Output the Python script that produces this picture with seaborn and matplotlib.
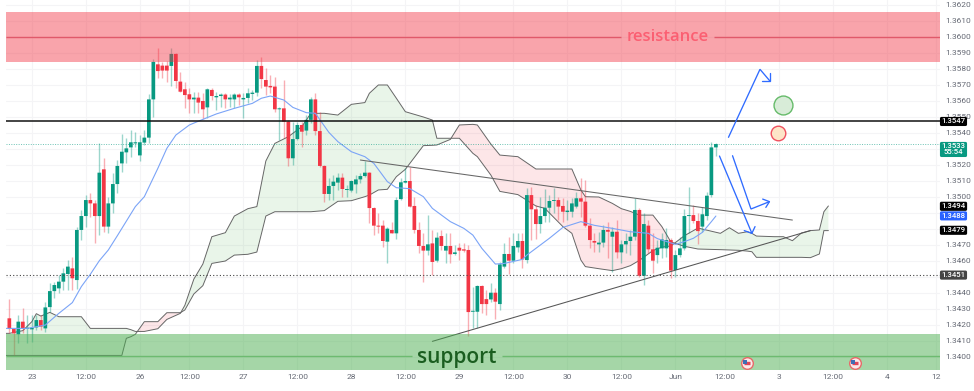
import numpy as np
import pandas as pd
import seaborn as sns
from matplotlib import pyplot as plt
from matplotlib import transforms

# %%
# hourly candles
opens = [1.3424,1.34173,1.3414,1.34219,1.34175,1.34171,1.34183,1.34229,1.34177,1.3431,
1.3441,1.34427,1.34469,1.34517,1.34552,1.34479,1.34792,1.34879,1.34979,1.34958,
1.34879,1.35171,1.34813,1.34958,1.35079,1.35208,1.35277,1.35308,1.35333,1.35258,
1.35338,1.35369,1.35608,1.35827,1.35819,1.35819,1.35817,1.35892,1.35719,1.35671,
1.3564,1.35608,1.35619,1.35598,1.35558,1.35667,1.35621,1.35629,1.35638,1.35608,
1.35608,1.35638,1.35608,1.35617,1.35642,1.3565,1.35817,1.35729,1.35692,1.35688,
1.35546,1.35552,1.35469,1.3524,1.3536,1.35448,1.35413,1.3548,1.35608,1.3541,
1.35192,1.35017,1.35067,1.35088,1.35119,1.35042,1.35038,1.35077,1.35108,1.35129,
1.3515,1.34929,1.34819,1.34819,1.34719,1.34792,1.34771,1.34985,1.35088,1.35098,
1.34942,1.34792,1.34692,1.34663,1.34708,1.346,1.34754,1.34663,1.34692,1.34642,
1.34681,1.34671,1.34667,1.34281,1.34281,1.34442,1.3436,1.34358,1.344,1.34329,
1.34563,1.34642,1.346,1.34683,1.34723,1.34604,1.3501,1.34921,1.34829,1.34879,
1.34931,1.34973,1.34979,1.34942,1.34904,1.34906,1.34938,1.3499,1.34969,1.34819,
1.34723,1.34702,1.34713,1.34792,1.3475,1.34781,1.34652,1.34702,1.34723,1.3475,
1.34917,1.34506,1.34819,1.34671,1.34635,1.34677,1.34677,1.34729,1.34542,1.34635,
1.34677,1.34879,1.34885,1.34848,1.34813,1.34879,1.3501,1.35308]
highs = [1.3436,1.34177,1.3426,1.34302,1.3426,1.3426,1.3426,1.3426,1.34344,1.34458,
1.34469,1.3451,1.34552,1.34604,1.34625,1.34813,1.34917,1.3501,1.35021,1.34979,
1.35333,1.3524,1.35,1.35146,1.35229,1.35392,1.35365,1.35417,1.35406,1.35385,
1.35417,1.35642,1.35858,1.35931,1.35844,1.35848,1.35931,1.35896,1.35781,1.35719,
1.35677,1.35656,1.35656,1.35646,1.35677,1.35677,1.35656,1.3565,1.3565,1.35642,
1.3565,1.35646,1.35646,1.35677,1.35667,1.35854,1.35871,1.35802,1.3576,1.35746,
1.35563,1.35729,1.35479,1.35469,1.35469,1.35469,1.3551,1.35625,1.35646,1.35531,
1.35198,1.35115,1.35135,1.3515,1.35146,1.35073,1.35104,1.35135,1.3515,1.35225,
1.35156,1.34938,1.34896,1.34854,1.34813,1.34844,1.35,1.35115,1.35177,1.35188,
1.35,1.34844,1.34771,1.34885,1.34792,1.34781,1.34792,1.34771,1.34771,1.34698,
1.34708,1.34708,1.34698,1.34438,1.34448,1.34448,1.34417,1.34458,1.34427,1.34594,
1.34708,1.3475,1.34771,1.34771,1.34771,1.35052,1.35063,1.34948,1.35,1.35046,
1.3501,1.35052,1.35,1.3499,1.34979,1.3499,1.35031,1.35115,1.35104,1.34865,
1.34771,1.34781,1.34823,1.34844,1.34813,1.34854,1.34729,1.34771,1.34792,1.3499,
1.34927,1.34896,1.34854,1.34771,1.34729,1.34771,1.34802,1.3474,1.34667,1.3475,
1.34921,1.35058,1.34948,1.34896,1.34938,1.35031,1.35344,1.35333]
lows = [1.34146,1.3401,1.34083,1.34146,1.34083,1.34094,1.34167,1.34167,1.34156,1.34281,
1.34365,1.34396,1.34417,1.34417,1.34417,1.34421,1.34729,1.34813,1.34875,1.34713,
1.3476,1.34781,1.34775,1.349,1.35021,1.35156,1.35208,1.3525,1.35313,1.35225,
1.35323,1.35333,1.355,1.3574,1.3574,1.35719,1.35692,1.35677,1.35656,1.35552,
1.35521,1.35521,1.35525,1.35483,1.3549,1.35604,1.35542,1.35563,1.35552,1.35563,
1.35552,1.35573,1.3549,1.35583,1.35604,1.35629,1.35677,1.35635,1.35646,1.35531,
1.35354,1.35365,1.35192,1.35198,1.35354,1.35313,1.35385,1.35458,1.35385,1.35188,
1.34969,1.34979,1.34979,1.35042,1.35,1.35,1.35031,1.35021,1.35088,1.35125,
1.34838,1.3476,1.34771,1.34683,1.34583,1.34771,1.34733,1.34979,1.35088,1.34938,
1.34771,1.34646,1.34469,1.34635,1.3451,1.34594,1.34667,1.34583,1.34583,1.34635,
1.34604,1.34656,1.34129,1.34177,1.34177,1.34271,1.3426,1.34344,1.34233,1.34292,
1.34552,1.34517,1.34583,1.34656,1.34552,1.34583,1.34729,1.34733,1.34771,1.34844,
1.34844,1.34896,1.34854,1.34844,1.34854,1.34875,1.34927,1.34875,1.34813,1.34677,
1.34656,1.34656,1.34688,1.34615,1.34531,1.34615,1.34583,1.34646,1.34635,1.34729,
1.345,1.34448,1.34646,1.34521,1.34583,1.34615,1.34625,1.3449,1.345,1.34625,
1.34667,1.34771,1.34833,1.34702,1.34781,1.34854,1.35,1.35254]
closes = [1.34173,1.34146,1.34219,1.34177,1.34181,1.34181,1.34229,1.34188,1.34308,1.3441,
1.34448,1.34469,1.34521,1.34563,1.3449,1.34792,1.34879,1.34979,1.34958,1.34879,
1.3515,1.34813,1.34958,1.35079,1.35192,1.35281,1.35302,1.3534,1.3534,1.3534,
1.35369,1.35608,1.35842,1.35785,1.35788,1.35788,1.35892,1.35723,1.35656,1.35635,
1.35608,1.35619,1.35588,1.35546,1.35671,1.35629,1.35629,1.35638,1.35608,1.35619,
1.35638,1.35621,1.35617,1.35646,1.3565,1.35817,1.35735,1.35688,1.35683,1.35546,
1.35552,1.35469,1.3524,1.3536,1.35448,1.35406,1.3548,1.35608,1.3541,1.35192,
1.35017,1.35067,1.35094,1.35119,1.35048,1.35048,1.35098,1.35108,1.35129,1.3515,
1.34929,1.34819,1.34813,1.34723,1.348,1.34771,1.34979,1.3509,1.35098,1.34938,
1.34792,1.34692,1.34663,1.34702,1.34592,1.34744,1.34692,1.34692,1.3464,1.34652,
1.34663,1.34663,1.34279,1.34283,1.34442,1.34329,1.34329,1.344,1.34344,1.34577,
1.34642,1.346,1.34692,1.34723,1.34608,1.3501,1.34921,1.34829,1.34879,1.34931,
1.34973,1.34979,1.34938,1.34906,1.34913,1.34958,1.3499,1.34969,1.34819,1.34729,
1.34713,1.34713,1.34792,1.34781,1.34781,1.34652,1.34702,1.34723,1.3475,1.34917,
1.34506,1.34829,1.34671,1.346,1.34681,1.34733,1.34729,1.34538,1.34635,1.34677,
1.34879,1.34885,1.34848,1.34785,1.3489,1.35006,1.35308,1.35329]

# ichimoku cloud
cloud_bars = [-1,0,3,5,6,7,9,11,16,18,25,26,27,28,30,33,35,38,39,41,43,45,48,50,53,55,57,59,62,65,67,70,73,76,79,80,
82,84,86,88,92,94,95,98,100,103,104,107,109,113,117,119,123,125,127,128,131,134,136,138,140,143,145,147,150,153,
158,160,162,164,165,166,170,172,174,176,178,180,181,182]
span_a = [1.34146,1.34146,1.34163,1.34219,1.34269,1.34254,1.34277,1.3425,1.3425,1.34177,1.34177,1.34177,1.34169,1.34158,
1.34158,1.34175,1.34233,1.34271,1.34321,1.34485,1.34579,1.3475,1.34775,1.34879,1.34925,1.34938,1.35223,1.35333,1.35375,
1.35438,1.35521,1.35521,1.3551,1.35577,1.35588,1.35646,1.35698,1.35698,1.35615,1.35531,1.35498,1.35479,1.35365,1.35365,
1.35365,1.35271,1.3525,1.35135,1.35033,1.35013,1.34942,1.34927,1.34813,1.34771,1.34604,1.34563,1.3455,1.34538,1.3455,
1.34569,1.34602,1.34663,1.34685,1.34692,1.34756,1.34804,1.34771,1.34806,1.34771,1.34781,1.34771,1.34754,1.3475,1.3475,
1.34725,1.34773,1.34788,1.34792,1.34906,1.34942]
span_b = [1.34008,1.34008,1.34008,1.34008,1.34008,1.34008,1.34008,1.34008,1.34008,1.34008,1.34008,1.34115,1.34125,1.3414,
1.34219,1.34219,1.34275,1.34275,1.34292,1.34392,1.34444,1.34583,1.34598,1.34635,1.3464,1.34654,1.34879,1.34906,1.34906,
1.34906,1.34906,1.34913,1.34971,1.34975,1.35,1.3501,1.35042,1.35046,1.35125,1.35171,1.35319,1.35321,1.35323,1.35358,
1.35448,1.35452,1.35448,1.35329,1.3526,1.3525,1.35173,1.35173,1.35173,1.35173,1.35042,1.35,1.34998,1.34958,1.34925,
1.34908,1.34885,1.34885,1.34813,1.34717,1.3469,1.34673,1.34669,1.34667,1.34665,1.3466,1.34656,1.34621,1.34621,1.34621,
1.34621,1.34621,1.34619,1.34642,1.34788,1.34788]

# blue moving average
ma_bars = [-1,4,8,11,14,16,18,20,22,24,28,30,33,35,37,40,43,46,50,54,56,58,61,63,66,68,71,73,76,79,81,84,86,89,92,94,98,
101,103,105,108,110,114,115,120,123,127,130,134,138,142,144,148,150,152,154,156,157]
ma_vals = [1.34177,1.34177,1.34198,1.34271,1.34338,1.34438,1.34515,1.346,1.34667,1.34756,1.34938,1.35,1.35177,1.35302,
1.35385,1.35448,1.35483,1.35517,1.35552,1.35583,1.35615,1.35629,1.35604,1.35558,1.35525,1.35521,1.35402,1.35344,1.35281,
1.3525,1.35208,1.35094,1.35056,1.3505,1.35,1.34927,1.34844,1.34802,1.3476,1.34677,1.34579,1.34583,1.34608,1.34635,1.3474,
1.34808,1.34844,1.34821,1.34802,1.34781,1.34771,1.34738,1.34702,1.34719,1.3474,1.34777,1.34844,1.34879]

# drawn trend lines
upper_trend_bars = [78, 174]
upper_trend_vals = [1.35229, 1.34854]
lower_trend_bars = [94, 178]
lower_trend_vals = [1.34096, 1.34788]

# blue arrows: path, then the two strokes of each head
arrow_paths = [
    ([159.8, 166.8, 169.0], [1.35371, 1.35796, 1.35723]),
    ([157.8, 165.0], [1.35254, 1.34771]),
    ([160.7, 164.8, 168.9], [1.35256, 1.34923, 1.34969]),
]
arrow_heads = [
    ([167.3, 169.0, 169.0], [1.35723, 1.35723, 1.35771]),
    ([163.3, 165.0, 165.7], [1.34788, 1.34771, 1.34813]),
    ([167.4, 168.9, 168.1], [1.34985, 1.34969, 1.34933]),
]

# zones and levels
resistance_top, resistance_bottom, resistance_mid = 1.36154, 1.3584, 1.36
support_top, support_mid = 1.34142, 1.34004
level_black, level_last, level_dotted = 1.3547, 1.3533, 1.3451
resistance_gap = (135.9, 156.6)
support_gap = (89.5, 109.5)

xtick_bars = [5, 17, 29, 40, 52, 64, 76, 88, 100, 112, 124, 136, 148, 159, 171, 183, 195, 206]
xtick_labels = ['23', '12:00', '26', '12:00', '27', '12:00', '28', '12:00', '29', '12:00', '30', '12:00',
                'Jun', '12:00', '3', '12:00', '4', '12']
# the scale labels hidden behind the price boxes stay blank
ytick_vals = [round(1.34 + 0.001 * k, 3) for k in range(23)]
hidden_ticks = [1.345, 1.348, 1.349, 1.353]

box_labels = ['1.3547', '1.3533\n55:54', '1.3494', '1.3488', '1.3479', '1.3451']
box_prices = [1.3547, 1.35295, 1.3494, 1.3488, 1.3479, 1.3451]
box_colors = ['#000000', '#089981', '#000000', '#2962ff', '#000000', '#444444']

event_bars = [163.9, 187.9]
event_price = 1.33958

# %%
sns.set_theme(style='whitegrid', rc={'grid.color': '#f4f4f6', 'grid.linewidth': 0.8})
plt.rcParams['font.family'] = ['Roboto', 'DejaVu Sans']

fig = plt.figure(figsize=(9.74, 3.91), dpi=100)
ax = fig.add_axes([6 / 974, 21 / 391, 934 / 974, 370 / 391])

candles = pd.DataFrame({'bar': range(len(opens)), 'open': opens, 'high': highs, 'low': lows, 'close': closes})
candles['up'] = candles['close'] >= candles['open']
green, red = '#089981', '#f23645'

# cloud first, candles on top
cloud = pd.DataFrame({'bar': cloud_bars, 'a': span_a, 'b': span_b})
ax.fill_between(cloud['bar'], cloud['a'], cloud['b'], where=cloud['a'] >= cloud['b'], interpolate=True,
                color='#4caf50', alpha=0.12, lw=0, zorder=1)
ax.fill_between(cloud['bar'], cloud['a'], cloud['b'], where=cloud['a'] <= cloud['b'], interpolate=True,
                color='#f23645', alpha=0.12, lw=0, zorder=1)
sns.lineplot(data=cloud, x='bar', y='a', color='#666666', lw=0.7, estimator=None, sort=False, ax=ax, zorder=2)
sns.lineplot(data=cloud, x='bar', y='b', color='#666666', lw=0.7, estimator=None, sort=False, ax=ax, zorder=2)

for up, color in [(True, green), (False, red)]:
    part = candles[candles['up'] == up]
    ax.vlines(part['bar'], part['low'], part['high'], color=color, alpha=0.4, lw=1.0, zorder=3)
    bars = ax.bar(part['bar'], (part['close'] - part['open']).abs().clip(lower=0.00006),
                  bottom=part[['open', 'close']].min(axis=1), width=0.82, color=color, lw=0, zorder=4)
    for b in bars:
        b.set_snap(False)

sns.lineplot(x=ma_bars, y=ma_vals, color='#7ba4f7', lw=0.8, estimator=None, sort=False, ax=ax, zorder=5)

ax.plot(upper_trend_bars, upper_trend_vals, color='#666666', lw=0.75, zorder=6)
ax.plot(lower_trend_bars, lower_trend_vals, color='#555555', lw=0.75, zorder=6)

# zones
left, right = -0.74, 206.8
ax.axhspan(resistance_bottom, resistance_top, color='#f23645', alpha=0.45, lw=0, zorder=6)
ax.axhspan(1.33917, support_top, color='#4caf50', alpha=0.5, lw=0, zorder=6)
ax.hlines([resistance_mid] * 2, [left, resistance_gap[1]], [resistance_gap[0], right], color='#e0596a', lw=1.0, zorder=7)
ax.hlines([support_mid] * 2, [left, support_gap[1]], [support_gap[0], right], color='#6dbb70', lw=1.0, zorder=7)
ax.text(146.4, resistance_mid, 'resistance', color='#fb5f72', fontsize=12, family='Open Sans', weight='semibold',
        ha='center', va='center', zorder=8)
ax.text(99.3, support_mid - 0.00006, 'support', color='#1b5e20', fontsize=15, family='Open Sans', weight='semibold',
        ha='center', va='center', zorder=8)

# levels
ax.axhline(level_black, color='#111111', lw=1.1, zorder=7)
ax.axhline(level_last, color='#089981', lw=0.7, ls=(0, (1, 1.5)), alpha=0.6, zorder=7)
ax.axhline(level_dotted, color='#444444', lw=0.8, ls=(0, (1, 2)), zorder=7)

# blue arrows
for xs, ys in arrow_paths + arrow_heads:
    ax.plot(xs, ys, color='#2f6bff', lw=0.95, zorder=8, solid_joinstyle='miter')

# circles
ax.scatter([171.9], [1.35573], s=185, facecolor='#d8ecd8', edgecolor='#66bb6a', lw=1.0, zorder=8)
ax.scatter([170.9], [1.35396], s=110, facecolor='#fde5c8', edgecolor='#f0505f', lw=1.0, zorder=8)

# event flags
ax.scatter(event_bars, [event_price] * 2, s=70, facecolor='#fbeaea', edgecolor='#e86a6a', lw=1.0, zorder=9, clip_on=False)
ax.scatter(event_bars, [event_price] * 2, s=22, marker='_', color='#e0455a', lw=2.4, zorder=10)
ax.scatter([b - 0.4 for b in event_bars], [event_price + 0.00012] * 2, s=9, marker='s', color='#3f6fb5', lw=0, zorder=11)

# axes
ax.set_xlim(left, right)
ax.set_ylim(1.33917, 1.36229)
ax.set_xlabel('')
ax.set_ylabel('')
ax.set_xticks(xtick_bars)
ax.set_xticklabels(xtick_labels)
ax.yaxis.tick_right()
ax.set_yticks(ytick_vals)
ax.set_yticklabels(['' if v in hidden_ticks else '%.4f' % v for v in ytick_vals])
ax.tick_params(axis='both', length=0, labelsize=6, labelcolor='#666a75')
ax.tick_params(axis='x', pad=3)
ax.tick_params(axis='y', pad=4)
ax.grid(True, zorder=0)
for side in ax.spines:
    ax.spines[side].set_visible(False)

# price boxes on the scale
trans = transforms.blended_transform_factory(fig.transFigure, ax.transData)
for label, price, color in zip(box_labels, box_prices, box_colors):
    ax.text(953.5 / 974, price, label, transform=trans, color='white', fontsize=5.6, ha='center', va='center',
            linespacing=1.0, weight='medium', zorder=12, clip_on=False,
            bbox=dict(boxstyle='round,pad=0.2', facecolor=color, edgecolor='none'))

plt.savefig('out.png', dpi=100, facecolor='white')
